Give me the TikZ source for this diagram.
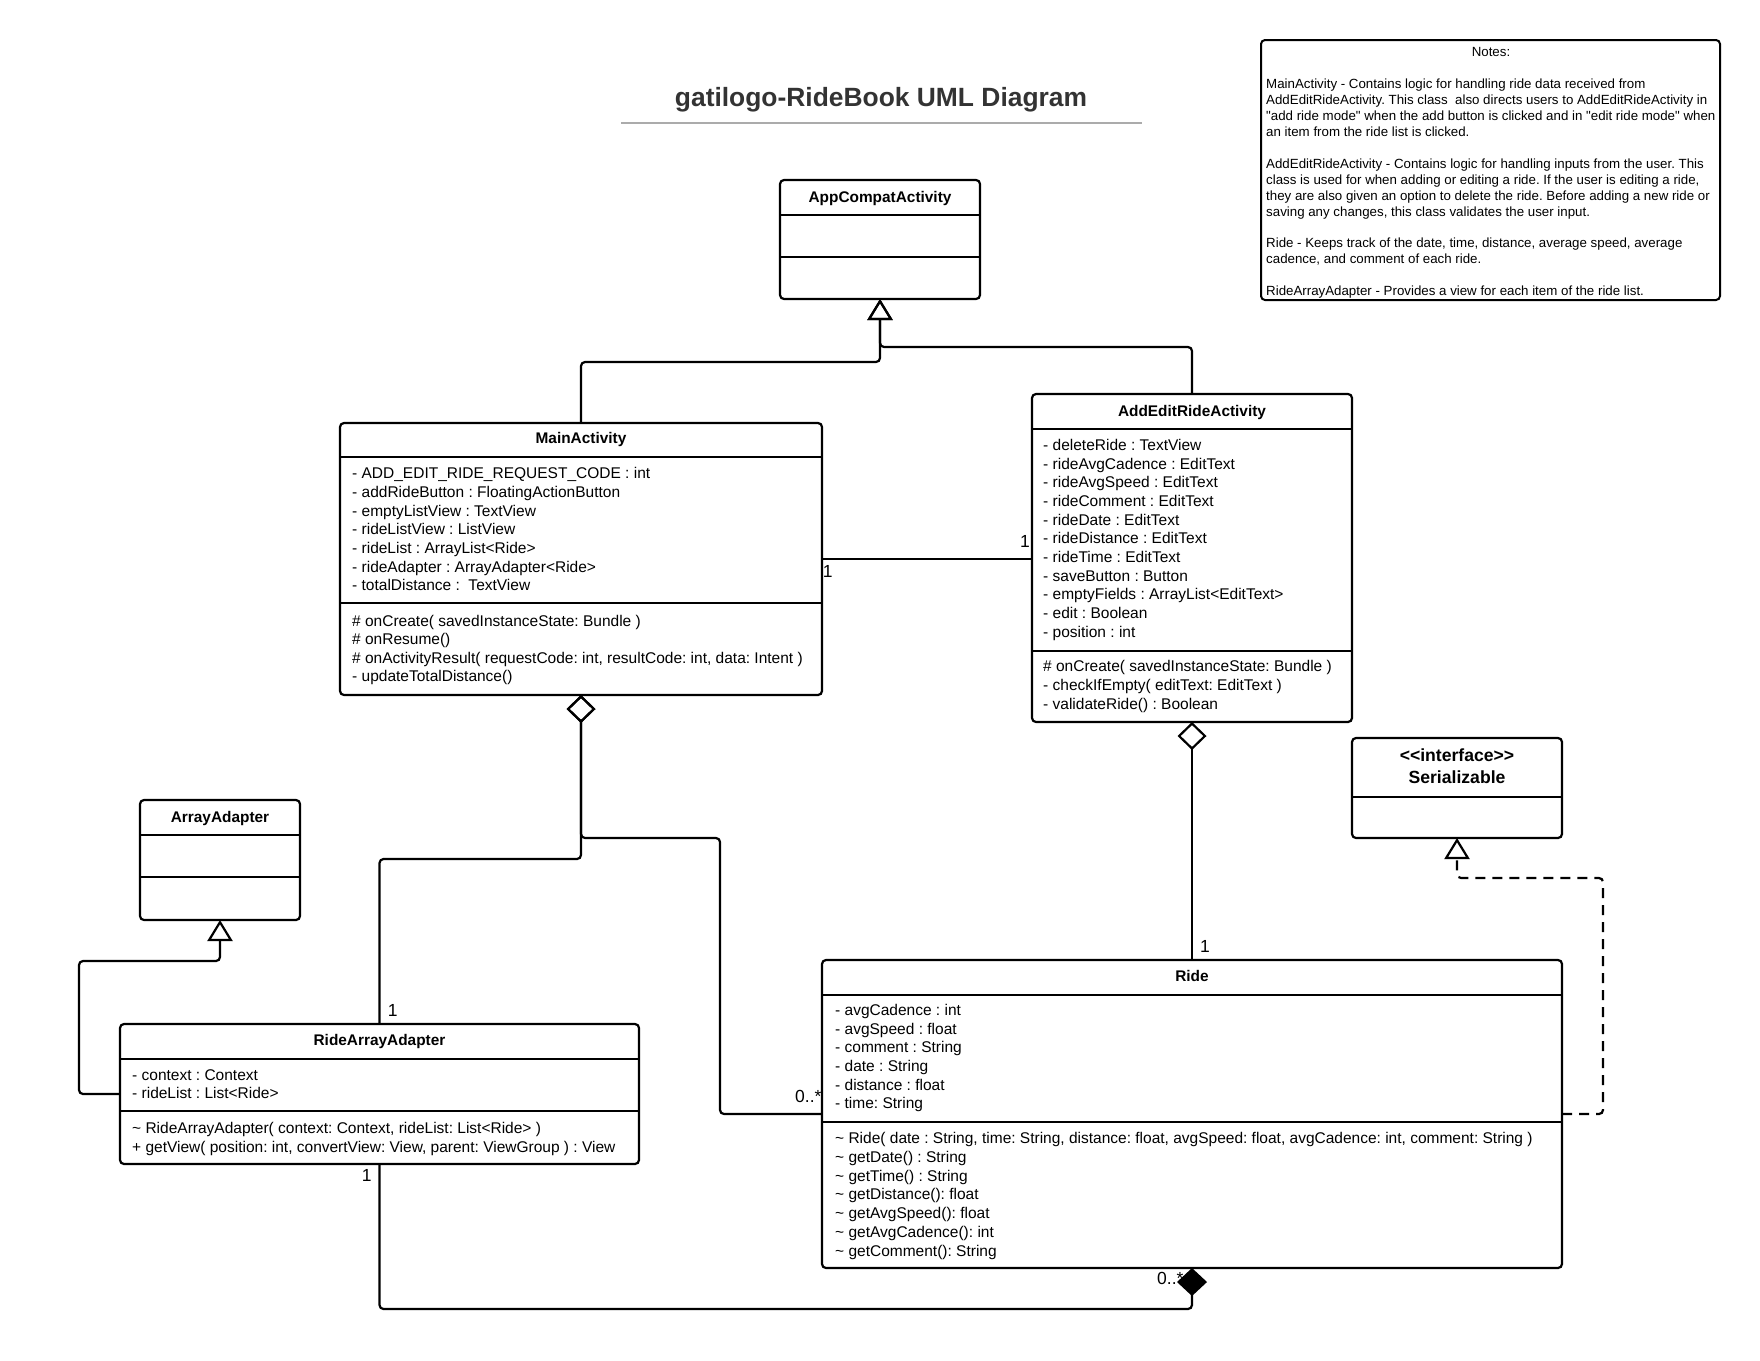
\documentclass[tikz,border=0pt]{standalone}
\usepackage{fontspec}
\setmainfont{Liberation Sans}[Ligatures=TeXOff]
\usetikzlibrary{arrows.meta}
\definecolor{titlegray}{HTML}{333333}
\definecolor{rulegray}{HTML}{ABABAB}
\begin{document}
\frenchspacing
\begin{tikzpicture}[x=1pt,y=-1pt,
  cls/.style={draw, line width=2.2pt, rounded corners=4pt, inner sep=0pt, outer sep=0pt},
  div/.style={line width=2.2pt},
  txt/.style={anchor=base west, inner sep=0pt, font=\fontsize{15.5}{18}\selectfont},
  cname/.style={anchor=base, inner sep=0pt, font=\bfseries\fontsize{15.4}{18}\selectfont},
  bigname/.style={anchor=base, inner sep=0pt, font=\bfseries\fontsize{17.6}{20}\selectfont},
  mult/.style={anchor=center, inner sep=0pt, text height=12.5pt, text depth=0pt, font=\fontsize{17.5}{20}\selectfont},
  notetxt/.style={anchor=base west, inner sep=0pt, font=\fontsize{13.3}{16}\selectfont},
  conn/.style={line width=2.2pt, rounded corners=4pt},
  inh/.style={conn, -{Triangle[open, length=21pt, width=25pt]}},
  real/.style={conn, dash pattern=on 10pt off 7pt, -{Triangle[open, length=21pt, width=25pt]}},
  agg/.style={conn, {Diamond[open, length=28pt, width=29pt]}-},
  comp/.style={conn, -{Diamond[length=28pt, width=30pt]}}
]
\useasboundingbox (0,0) rectangle (1760,1360);

% title
\node[anchor=base, inner sep=0pt, text=titlegray, font=\bfseries\fontsize{26.4}{30}\selectfont] (title) at (881,106) {gatilogo-RideBook UML Diagram};
\draw[rulegray, line width=2pt] (621,123.3) -- (1142,123.3);

% notes
\node[cls, line width=2pt, minimum width=459pt, minimum height=260pt] (notes) at (1490.5,170) {};
\node[anchor=base, inner sep=0pt, font=\fontsize{13.3}{16}\selectfont] (notes-h) at (1491,56.5) {Notes:};
\foreach \t/\k in {%
  {MainActivity - Contains logic for handling ride data received from}/2,
  {AddEditRideActivity. This class\ \ also directs users to AddEditRideActivity in}/3,
  {"add ride mode" when the add button is clicked and in "edit ride mode" when}/4,
  {an item from the ride list is clicked.}/5,
  {AddEditRideActivity - Contains logic for handling inputs from the user. This}/7,
  {class is used for when adding or editing a ride. If the user is editing a ride,}/8,
  {they are also given an option to delete the ride. Before adding a new ride or}/9,
  {saving any changes, this class validates the user input.}/10,
  {Ride - Keeps track of the date, time, distance, average speed, average}/12,
  {cadence, and comment of each ride.}/13,
  {RideArrayAdapter - Provides a view for each item of the ride list.}/15}
  \node[notetxt] (note-\k) at (1266,{56.5+15.95*\k}) {\t};

% AppCompatActivity
\node[cls, minimum width=200pt, minimum height=119pt] (appc) at (880,239.5) {};
\draw[div] (appc.west |- 0,215) -- (appc.east |- 0,215);
\draw[div] (appc.west |- 0,257) -- (appc.east |- 0,257);
\node[cname] (appc-n) at (880,202) {AppCompatActivity};

% MainActivity
\node[cls, minimum width=482pt, minimum height=272pt] (main) at (581,559) {};
\draw[div] (main.west |- 0,457) -- (main.east |- 0,457);
\draw[div] (main.west |- 0,603) -- (main.east |- 0,603);
\node[cname] (main-n) at (581,443.5) {MainActivity};
\foreach \t [count=\i from 0] in {%
  {- ADD\_EDIT\_RIDE\_REQUEST\_CODE : int},
  {- addRideButton : FloatingActionButton},
  {- emptyListView : TextView},
  {- rideListView : ListView},
  {- rideList : ArrayList<Ride>},
  {- rideAdapter : ArrayAdapter<Ride>},
  {- totalDistance :\ \ TextView}}
  \node[txt] (main-a\i) at (352,{478.7+18.67*\i}) {\t};
\foreach \t [count=\i from 0] in {%
  {\# onCreate( savedInstanceState: Bundle )},
  {\# onResume()},
  {\# onActivityResult( requestCode: int, resultCode: int, data: Intent )},
  {- updateTotalDistance()}}
  \node[txt] (main-m\i) at (352,{626+18.6*\i}) {\t};

% AddEditRideActivity
\node[cls, minimum width=320pt, minimum height=328pt] (addedit) at (1192,558) {};
\draw[div] (addedit.west |- 0,429) -- (addedit.east |- 0,429);
\draw[div] (addedit.west |- 0,651) -- (addedit.east |- 0,651);
\node[cname] (addedit-n) at (1192,416) {AddEditRideActivity};
\foreach \t [count=\i from 0] in {%
  {- deleteRide : TextView},
  {- rideAvgCadence : EditText},
  {- rideAvgSpeed : EditText},
  {- rideComment : EditText},
  {- rideDate : EditText},
  {- rideDistance : EditText},
  {- rideTime : EditText},
  {- saveButton : Button},
  {- emptyFields : ArrayList<EditText>},
  {- edit : Boolean},
  {- position : int}}
  \node[txt] (addedit-a\i) at (1043,{450.3+18.7*\i}) {\t};
\foreach \t [count=\i from 0] in {%
  {\# onCreate( savedInstanceState: Bundle )},
  {- checkIfEmpty( editText: EditText )},
  {- validateRide() : Boolean}}
  \node[txt] (addedit-m\i) at (1043,{671.7+18.7*\i}) {\t};

% ArrayAdapter
\node[cls, minimum width=160pt, minimum height=120pt] (arrayad) at (220,860) {};
\draw[div] (arrayad.west |- 0,835) -- (arrayad.east |- 0,835);
\draw[div] (arrayad.west |- 0,877) -- (arrayad.east |- 0,877);
\node[cname] (arrayad-n) at (220,822) {ArrayAdapter};

% Serializable
\node[cls, minimum width=210pt, minimum height=100pt] (ser) at (1457,788) {};
\draw[div] (ser.west |- 0,797) -- (ser.east |- 0,797);
\node[bigname] (ser-s) at (1457,761) {<<interface>>};
\node[bigname] (ser-n) at (1457,783.5) {Serializable};

% RideArrayAdapter
\node[cls, minimum width=519pt, minimum height=140pt] (raa) at (379.5,1094) {};
\draw[div] (raa.west |- 0,1059) -- (raa.east |- 0,1059);
\draw[div] (raa.west |- 0,1111) -- (raa.east |- 0,1111);
\node[cname] (raa-n) at (379.5,1045.3) {RideArrayAdapter};
\node[txt] (raa-a0) at (132,1080.3) {- context : Context};
\node[txt] (raa-a1) at (132,1098.7) {- rideList : List<Ride>};
\node[txt] (raa-m0) at (132,1133.7) {\textasciitilde\ RideArrayAdapter( context: Context, rideList: List<Ride> )};
\node[txt] (raa-m1) at (132,1152.2) {+ getView( position: int, convertView: View, parent: ViewGroup ) : View};

% Ride
\node[cls, minimum width=740pt, minimum height=308pt] (ride) at (1192,1114) {};
\draw[div] (ride.west |- 0,995) -- (ride.east |- 0,995);
\draw[div] (ride.west |- 0,1122) -- (ride.east |- 0,1122);
\node[cname] (ride-n) at (1192,981.7) {Ride};
\foreach \t [count=\i from 0] in {%
  {- avgCadence : int},
  {- avgSpeed : float},
  {- comment : String},
  {- date : String},
  {- distance : float},
  {- time: String}}
  \node[txt] (ride-a\i) at (835,{1015.3+18.7*\i}) {\t};
\foreach \t [count=\i from 0] in {%
  {\textasciitilde\ Ride( date : String, time: String, distance: float, avgSpeed: float, avgCadence: int, comment: String )},
  {\textasciitilde\ getDate() : String},
  {\textasciitilde\ getTime() : String},
  {\textasciitilde\ getDistance(): float},
  {\textasciitilde\ getAvgSpeed(): float},
  {\textasciitilde\ getAvgCadence(): int},
  {\textasciitilde\ getComment(): String}}
  \node[txt] (ride-m\i) at (835,{1143.7+18.75*\i}) {\t};

% connectors
\draw[inh] (main.north) |- (880,362) -- (appc.south);
\draw[inh] (addedit.north) |- (880,347) -- (appc.south);
\draw[conn] (main.east) -- (main.east -| addedit.west);
\draw[agg] (main.south) -- (581,859) -| (raa.north);
\draw[agg] (main.south) |- (720,838) |- (ride.west);
\draw[agg] (addedit.south) -- (ride.north);
\draw[real] (ride.east) -| (1603,878) -| (ser.south);
\draw[inh] (raa.west) -| (79,961) -| (arrayad.south);
\draw[comp] (raa.south) |- (1192,1309) -- (ride.south);

% multiplicities
\node[mult] (m1) at (827.7,571.7) {1};
\node[mult] (m2) at (1025,541.7) {1};
\node[mult] (m3) at (392.7,1010.7) {1};
\node[mult] (m4) at (808.3,1096.7) {0..*};
\node[mult] (m5) at (1205,946.7) {1};
\node[mult] (m6) at (366.7,1175) {1};
\node[mult] (m7) at (1170.3,1278.3) {0..*};
\end{tikzpicture}
\end{document}
